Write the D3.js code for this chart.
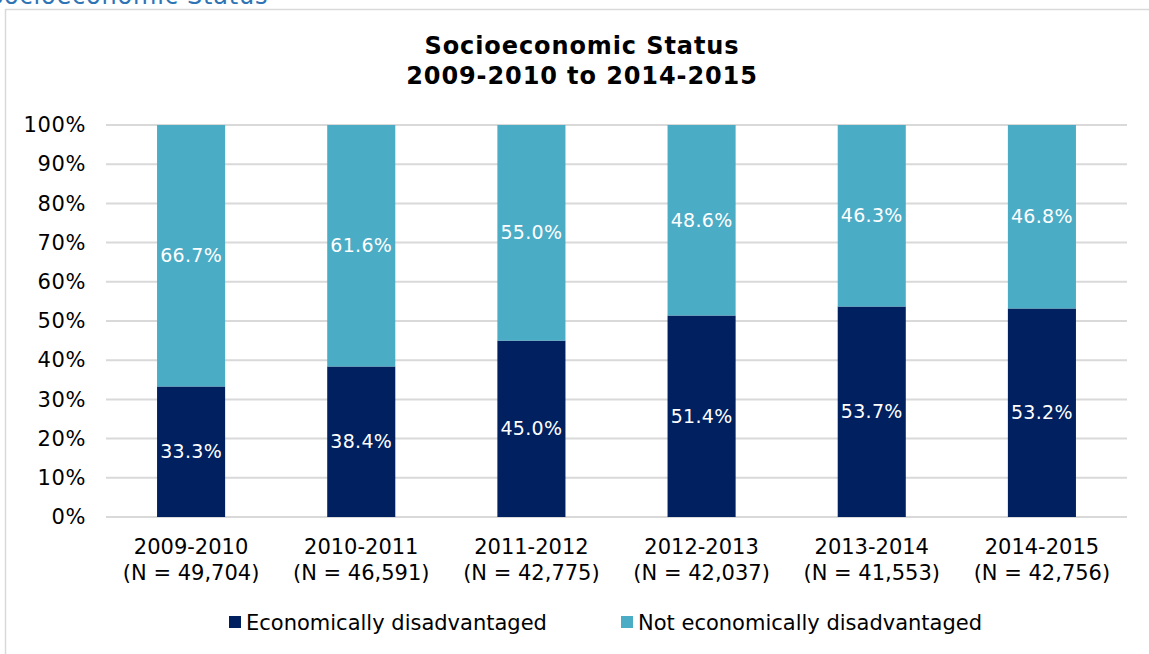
<!DOCTYPE html>
<html><head><meta charset="utf-8">
<script src="https://cdn.jsdelivr.net/npm/d3@7"></script>
<style>body{margin:0;background:#fff;}svg{display:block;font-family:"DejaVu Sans",Verdana,sans-serif;}</style>
</head><body>
<script>
const years = ["2009-2010","2010-2011","2011-2012","2012-2013","2013-2014","2014-2015"];
const ns = ["49,704","46,591","42,775","42,037","41,553","42,756"];
const disadvantaged = [33.3,38.4,45.0,51.4,53.7,53.2];
const notDisadvantaged = [66.7,61.6,55.0,48.6,46.3,46.8];
const yTicks = [0,10,20,30,40,50,60,70,80,90,100];
const seriesNames = ["Economically disadvantaged","Not economically disadvantaged"];
const colors = ["#00205f","#4bacc6"];

const W=1149,H=654;
const svg=d3.select("body").append("svg").attr("width",W).attr("height",H);
svg.append("text").attr("x",-12).attr("y",4).attr("fill","#2e74b5").attr("font-size",24).attr("letter-spacing",0.8).text("Socioeconomic Status");
svg.append("rect").attr("x",5.5).attr("y",9.5).attr("width",W+10).attr("height",H+10).attr("fill","none").attr("stroke","#d9d9d9").attr("stroke-width",1.5);

const x=d3.scaleBand().domain(years).range([106,1127]).paddingInner(0.6).paddingOuter(0.3);
const y=d3.scaleLinear().domain([0,100]).range([517,125]);

svg.append("g").selectAll("line").data(yTicks).join("line")
 .attr("x1",106).attr("x2",1127).attr("y1",d=>y(d)).attr("y2",d=>y(d))
 .attr("stroke","#d9d9d9").attr("stroke-width",2);

const yAxis=svg.append("g").attr("transform","translate(86,0)")
 .call(d3.axisLeft(y).tickValues(yTicks).tickFormat(d=>d+"%").tickSize(0).tickPadding(0));
yAxis.select(".domain").remove();
yAxis.selectAll("text").attr("font-size",21).attr("fill","#000").attr("font-family","DejaVu Sans, Verdana, sans-serif").attr("letter-spacing",0.6);

const rows=years.map((yr,i)=>({yr,a:disadvantaged[i],b:notDisadvantaged[i]}));
const g=svg.append("g");
rows.forEach(r=>{
  g.append("rect").attr("x",x(r.yr)).attr("width",x.bandwidth()).attr("y",y(r.a)).attr("height",y(0)-y(r.a)).attr("fill",colors[0]);
  g.append("rect").attr("x",x(r.yr)).attr("width",x.bandwidth()).attr("y",y(100)).attr("height",y(r.a)-y(100)).attr("fill",colors[1]);
  const cx=x(r.yr)+x.bandwidth()/2;
  g.append("text").attr("x",cx).attr("y",y(r.a/2)).attr("dy","0.35em").attr("text-anchor","middle").attr("fill","#fff").attr("font-size",19).attr("letter-spacing",0.3).text(r.a.toFixed(1)+"%");
  g.append("text").attr("x",cx).attr("y",y(r.a+r.b/2)).attr("dy","0.35em").attr("text-anchor","middle").attr("fill","#fff").attr("font-size",19).attr("letter-spacing",0.3).text(r.b.toFixed(1)+"%");
});

const xl=svg.append("g");
years.forEach((yr,i)=>{
  const cx=x(yr)+x.bandwidth()/2;
  xl.append("text").attr("x",cx).attr("y",554).attr("text-anchor","middle").attr("font-size",21).text(yr);
  xl.append("text").attr("x",cx).attr("y",580).attr("text-anchor","middle").attr("font-size",21).text("(N = "+ns[i]+")");
});

svg.append("text").attr("x",582).attr("y",54).attr("text-anchor","middle").attr("font-size",24).attr("font-weight","bold").attr("letter-spacing",0.9).text("Socioeconomic Status");
svg.append("text").attr("x",582).attr("y",84).attr("text-anchor","middle").attr("font-size",24).attr("font-weight","bold").attr("letter-spacing",0.9).text("2009-2010 to 2014-2015");

const leg=svg.append("g");
const lx=[229,621];
seriesNames.forEach((s,i)=>{
  leg.append("rect").attr("x",lx[i]).attr("y",616).attr("width",12).attr("height",12).attr("fill",colors[i]);
  leg.append("text").attr("x",lx[i]+17).attr("y",630).attr("font-size",21).text(s);
});
</script>
</body></html>
